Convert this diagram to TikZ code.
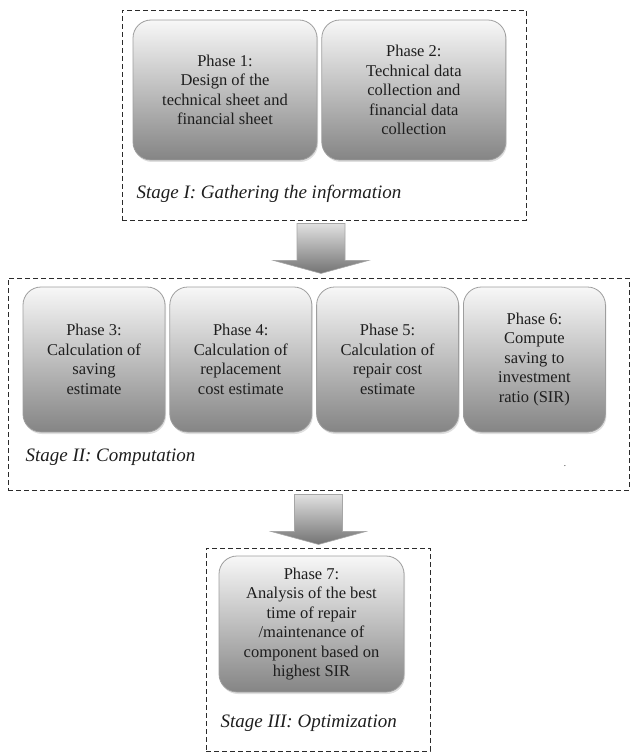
\documentclass[tikz,border=0pt]{standalone}
\usepackage{fontspec}
\setmainfont{Liberation Serif}
\usetikzlibrary{positioning,fit,calc,shadows}
\definecolor{ink}{HTML}{1E1E1E}
\definecolor{framec}{HTML}{2B2B2B}

\begin{document}
\begin{tikzpicture}[x=1pt,y=1pt,node distance=4pt,
  every node/.style={text=ink},
  phase/.style={rounded corners=18pt,draw=black!38,line width=0.8pt,top color=black!3,bottom color=black!48,
    minimum width=184pt,minimum height=140pt,align=center,inner sep=2pt,font=\fontsize{16.5}{19.5}\selectfont,
    drop shadow={shadow xshift=1pt,shadow yshift=-2pt,opacity=0.25}},
  narrow/.style={minimum width=142pt,minimum height=145pt},
  stage/.style={draw=framec,dash pattern=on 5pt off 3pt,line width=0.9pt,inner sep=0pt},
  stagelab/.style={anchor=base west,font=\fontsize{19}{22}\selectfont\itshape},
  blockarr/.style={top color=black!12,bottom color=black!55,draw=black!35,line width=0.6pt}]
  \useasboundingbox (0,0) rectangle (631,-754);

  % stage I
  \node[phase] (p1) at (225,-90) {Phase 1:\\Design of the\\technical sheet and\\financial sheet};
  \node[phase,right=of p1] (p2) {Phase 2:\\Technical data\\collection and\\financial data\\collection};
  \node[stagelab] (l1) at (133,-198) {Stage I: Gathering the information};
  \node[stage,fit={(122,-10)(526,-220)}] (stI) {};

  % stage II
  \node[phase,narrow] (p3) at (94,-359.5) {Phase 3:\\Calculation of\\saving\\estimate};
  \node[phase,narrow,right=of p3] (p4) {Phase 4:\\Calculation of\\replacement\\cost estimate};
  \node[phase,narrow,right=of p4] (p5) {Phase 5:\\Calculation of\\repair cost\\estimate};
  \node[phase,narrow,right=of p5] (p6) {Phase 6:\\Compute\\saving to\\investment\\ratio (SIR)};
  \node[stagelab] (l2) at (22,-461) {Stage II: Computation};
  \node[font=\small] (dot) at (565,-466) {.};
  \node[stage,fit={(8,-278)(629,-490)}] (stII) {};

  % stage III
  \node[phase,minimum width=185pt,minimum height=136pt] (p7) at (311.5,-624)
    {Phase 7:\\Analysis of the best\\time of repair\\/maintenance of\\component based on\\highest SIR};
  \node[stagelab] (l3) at (217,-727) {Stage III: Optimization};
  \node[stage,fit={(206,-548)(430,-751)}] (stIII) {};

  % arrows between stages
  \coordinate (a1) at ($(stI.south)+(-3,-3)$);
  \shade[blockarr] (a1) ++(-24,0) -- ++(48,0) -- ++(0,-37) -- ++(23.5,0) -- ++(-47.5,-13) -- ++(-47.5,13) -- ++(23.5,0) -- cycle;
  \coordinate (a2) at ($(stII.south)+(0,-4)$);
  \shade[blockarr] (a2) ++(-24,0) -- ++(48,0) -- ++(0,-37) -- ++(23.5,0) -- ++(-47.5,-13) -- ++(-47.5,13) -- ++(23.5,0) -- cycle;
\end{tikzpicture}
\end{document}
